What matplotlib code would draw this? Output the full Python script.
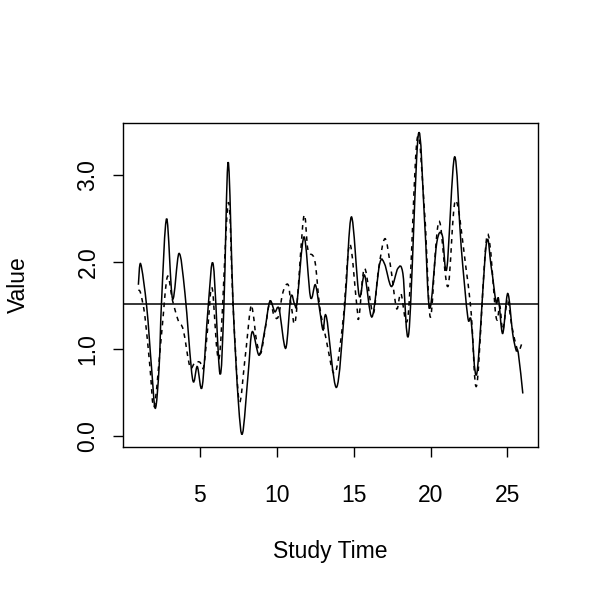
import matplotlib
matplotlib.use("Agg")
import matplotlib.pyplot as plt
from matplotlib.path import Path
from matplotlib.patches import PathPatch

# ── Data ────────────────────────────────────────────────────────────────────
solid_x = [1.0, 1.15, 1.54, 1.85, 2.10, 2.35, 2.51, 2.84, 3.22, 3.64, 4.03,
           4.52, 4.83, 5.15, 5.54, 5.87, 6.30, 6.56, 6.84, 7.16, 7.50, 7.77,
           8.14, 8.40, 8.85, 9.22, 9.55, 9.87, 10.15, 10.58, 10.91, 11.17,
           11.32, 11.77, 12.19, 12.51, 12.79, 13.01, 13.23, 13.88,
           14.42, 14.85, 15.35, 15.71, 16.19, 16.69, 17.01, 17.45, 17.88,
           18.20, 18.59, 19.20, 19.61, 19.94, 20.41, 20.76, 21.06, 21.56,
           21.99, 22.42, 22.64, 23.01, 23.62, 23.94, 24.26, 24.42, 24.69,
           25.02, 25.34, 25.56, 25.71, 26.0]
solid_y = [1.74, 1.98, 1.49, 0.80, 0.32, 0.80, 1.56, 2.50, 1.58, 2.10, 1.64,
           0.66, 0.80, 0.57, 1.49, 1.97, 0.72, 1.49, 3.15, 1.51, 0.40, 0.03,
           0.72, 1.20, 0.93, 1.22, 1.55, 1.43, 1.46, 1.01, 1.60, 1.51,
           1.54, 2.29, 1.60, 1.74, 1.45, 1.22, 1.37, 0.56,
           1.49, 2.52, 1.62, 1.85, 1.37, 1.98, 1.98, 1.72, 1.93,
           1.87, 1.19, 3.46, 2.48, 1.47, 2.23, 2.31, 1.93, 3.21,
           2.18, 1.37, 1.33, 0.72, 2.20, 1.95, 1.54, 1.58, 1.18,
           1.64, 1.18, 0.99, 0.95, 0.49]

dashed_x = [1.0, 1.15, 1.43, 1.75, 2.03, 2.51, 2.88, 3.22, 3.59, 3.92, 4.35,
            4.68, 5.0, 5.25, 5.54, 5.80, 6.26, 6.84, 7.16, 7.55, 7.92, 8.29,
            8.46, 8.68, 8.95, 9.22, 9.55, 9.80, 10.09, 10.41, 10.74, 10.95,
            11.23, 11.75, 12.03, 12.47, 12.79, 13.18, 13.77, 14.31, 14.74,
            15.21, 15.35, 15.71, 16.26, 16.60, 17.03, 17.40, 17.79, 18.07,
            18.55, 19.13, 19.62, 19.98, 20.37, 20.63, 21.13, 21.62, 22.32,
            22.65, 23.01, 23.68, 24.26, 24.50, 24.70, 25.0, 25.30, 25.60,
            25.75, 26.0]
dashed_y = [1.68, 1.64, 1.37, 0.80, 0.34, 1.18, 1.83, 1.56, 1.33, 1.22, 0.80,
            0.85, 0.85, 0.80, 1.30, 1.70, 0.90, 2.68, 1.49, 0.41, 0.87, 1.47,
            1.41, 1.10, 0.95, 1.20, 1.55, 1.40, 1.37, 1.66, 1.74, 1.49,
            1.35, 2.52, 2.14, 2.02, 1.49, 1.14, 0.72, 1.33, 2.21,
            1.49, 1.37, 1.93, 1.41, 1.90, 2.27, 1.95, 1.47, 1.64,
            1.40, 3.42, 2.55, 1.37, 2.25, 2.44, 1.72, 2.71, 1.91,
            1.40, 0.59, 2.31, 1.37, 1.50, 1.22, 1.55, 1.25, 1.02,
            0.98, 1.10]

ref_level = 1.52
x_ticks = [5, 10, 15, 20, 25]
y_ticks = [0.0, 1.0, 2.0, 3.0]
y_tick_labels = ["0.0", "1.0", "2.0", "3.0"]


# ── Helper: smooth curve through the read points (Bezier path) ─────────────
def smooth_path(xs, ys):
    pts = list(zip(xs, ys))
    n = len(pts)
    verts = [pts[0]]
    codes = [Path.MOVETO]
    for i in range(n - 1):
        p0 = pts[max(i - 1, 0)]
        p1 = pts[i]
        p2 = pts[i + 1]
        p3 = pts[min(i + 2, n - 1)]
        c1 = (p1[0] + (p2[0] - p0[0]) / 6, p1[1] + (p2[1] - p0[1]) / 6)
        c2 = (p2[0] - (p3[0] - p1[0]) / 6, p2[1] - (p3[1] - p1[1]) / 6)
        verts += [c1, c2, p2]
        codes += [Path.CURVE4] * 3
    return Path(verts, codes)


# ── Plot ────────────────────────────────────────────────────────────────────
plt.rcParams['font.family'] = ['Liberation Sans', 'DejaVu Sans']

fig = plt.figure(figsize=(6, 6), dpi=100)
ax = fig.add_axes([0.205, 0.255, 0.692, 0.54])

ax.add_patch(PathPatch(smooth_path(solid_x, solid_y), fill=False,
                       edgecolor='black', linewidth=1.1))
ax.add_patch(PathPatch(smooth_path(dashed_x, dashed_y), fill=False,
                       edgecolor='black', linewidth=1.1, linestyle=(0, (3, 3))))
ax.axhline(ref_level, color='black', linewidth=1.1)

ax.set_xlim(0, 27)
ax.set_ylim(-0.125, 3.6)

ax.set_xticks(x_ticks)
ax.set_yticks(y_ticks)
ax.set_yticklabels(y_tick_labels, rotation=90, va='center')
ax.tick_params(direction='out', length=7, width=1, labelsize=16.5)
ax.tick_params(axis='x', pad=20)
ax.tick_params(axis='y', pad=10)

for s in ax.spines.values():
    s.set_linewidth(1)

ax.set_xlabel("Study Time", fontsize=16.5, va='center')
ax.xaxis.set_label_coords(0.5, -0.324)
ax.set_ylabel("Value", fontsize=16.5, va='center', ha='center')
ax.yaxis.set_label_coords(-0.253, 0.5)

plt.savefig("out.png", dpi=100)
